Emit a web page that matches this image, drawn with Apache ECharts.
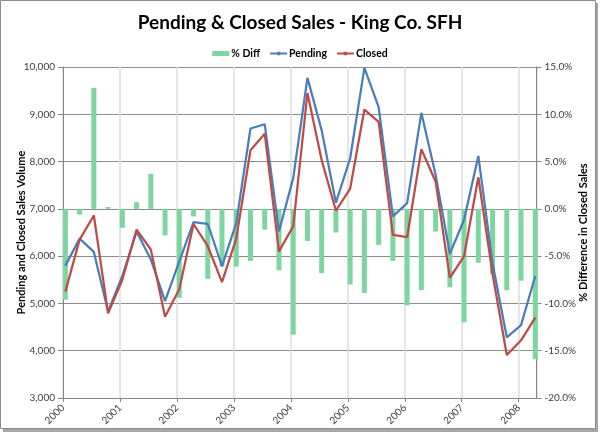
<!DOCTYPE html>
<html>
<head>
<meta charset="utf-8">
<script src="https://cdn.jsdelivr.net/npm/echarts@6/dist/echarts.min.js"></script>
<style>
  html, body { margin: 0; padding: 0; background: #ffffff; }
  #chart { width: 600px; height: 436px; }
</style>
</head>
<body>
<div id="chart"></div>
<script>
// Quarter start months (YYYY-MM)
var quarters = [
  '2000-01','2000-04','2000-07','2000-10',
  '2001-01','2001-04','2001-07','2001-10',
  '2002-01','2002-04','2002-07','2002-10',
  '2003-01','2003-04','2003-07','2003-10',
  '2004-01','2004-04','2004-07','2004-10',
  '2005-01','2005-04','2005-07','2005-10',
  '2006-01','2006-04','2006-07','2006-10',
  '2007-01','2007-04','2007-07','2007-10',
  '2008-01','2008-04'
];
var pendingSales = [
  5800, 6370, 6090, 4830,
  5580, 6520, 5930, 5050,
  5890, 6720, 6680, 5790,
  6700, 8700, 8790, 6520,
  7650, 9770, 8660, 7130,
  8070, 9980, 9150, 6840,
  7120, 9030, 7720, 6050,
  6770, 8120, 5850, 4280,
  4540, 5580
];
var closedSales = [
  5250, 6350, 6860, 4790,
  5500, 6560, 6140, 4720,
  5300, 6680, 6210, 5450,
  6370, 8240, 8590, 6100,
  6630, 9450, 8030, 6960,
  7430, 9100, 8840, 6450,
  6400, 8260, 7580, 5540,
  6000, 7670, 5620, 3910,
  4220, 4700
];
var pctDiff = [
  -9.6, -0.6, 12.8, 0.2,
  -2.0, 0.7, 3.7, -2.8,
  -9.4, -0.8, -7.4, -6.1,
  -6.1, -5.5, -2.2, -6.5,
  -13.3, -3.4, -6.8, -2.5,
  -8.0, -8.9, -3.8, -5.5,
  -10.2, -8.6, -2.4, -8.3,
  -12.0, -5.7, -6.9, -8.6,
  -7.6, -15.9
];
var leftTicks = [3000, 4000, 5000, 6000, 7000, 8000, 9000, 10000];
var rightTicks = [-20, -15, -10, -5, 0, 5, 10, 15];
var yearTicks = [2000, 2001, 2002, 2003, 2004, 2005, 2006, 2007, 2008];

// convert 'YYYY-MM' to a decimal year at the middle of that month
function toYear(s) {
  var p = s.split('-');
  return parseInt(p[0], 10) + (parseInt(p[1], 10) - 0.5) / 12;
}
function pairs(vals) {
  return quarters.map(function (q, i) { return [toYear(q), vals[i]]; });
}

var FONT = 'Lato, "Open Sans", sans-serif';
var chart = echarts.init(document.getElementById('chart'), null, { renderer: 'canvas' });
chart.setOption({
  backgroundColor: '#ffffff',
  animation: false,
  textStyle: { fontFamily: FONT },
  graphic: [
    { type: 'rect', z: -10, silent: true,
      shape: { x: 3, y: 3, width: 595, height: 429 },
      style: { fill: '#a6a6a6' } },
    { type: 'rect', z: -9, silent: true,
      shape: { x: 0.5, y: 0.5, width: 595, height: 428 },
      style: { fill: '#ffffff', stroke: '#8c8c8c', lineWidth: 1 } }
  ],
  title: {
    text: 'Pending & Closed Sales - King Co. SFH',
    left: 'center',
    top: 8,
    textStyle: { fontFamily: FONT, fontWeight: 'bold', fontSize: 19, color: '#000000' }
  },
  legend: {
    top: 43,
    left: 'center',
    itemWidth: 17,
    itemHeight: 5,
    itemGap: 9,
    textStyle: { fontFamily: FONT, fontWeight: 'bold', fontSize: 10.5, color: '#000000', padding: [0, 0, 0, -3] },
    data: [
      { name: '% Diff', icon: 'rect' },
      { name: 'Pending' },
      { name: 'Closed' }
    ]
  },
  grid: { left: 63, right: 63.5, top: 67, bottom: 38, containLabel: false },
  xAxis: {
    type: 'value',
    min: yearTicks[0],
    max: 2008.313,
    interval: 1,
    axisLine: { show: true, onZero: false, lineStyle: { color: '#868686', width: 1 } },
    axisTick: { show: true, length: 4, lineStyle: { color: '#868686' } },
    splitLine: { show: true, lineStyle: { color: '#dcdcdc', width: 1.5 } },
    axisLabel: {
      rotate: 45, margin: 8, fontSize: 10, color: '#404040', fontFamily: FONT,
      showMaxLabel: false,
      formatter: function (v) { return yearTicks.indexOf(Math.round(v)) >= 0 && Math.abs(v - Math.round(v)) < 1e-6 ? String(Math.round(v)) : ''; }
    }
  },
  yAxis: [
    {
      type: 'value',
      min: leftTicks[0],
      max: leftTicks[leftTicks.length - 1],
      interval: 1000,
      name: 'Pending and Closed Sales Volume',
      nameLocation: 'middle',
      nameRotate: 90,
      nameGap: 36,
      nameMoveOverlap: false,
      nameTextStyle: { fontFamily: FONT, fontWeight: 'bold', fontSize: 11, color: '#000000' },
      axisLine: { show: true, lineStyle: { color: '#868686' } },
      axisTick: { show: true, length: 5, lineStyle: { color: '#868686' } },
      splitLine: { show: true, lineStyle: { color: '#8c8c8c', width: 1 } },
      axisLabel: {
        margin: 8, fontSize: 10, color: '#404040', fontFamily: FONT,
        formatter: function (v) { return v.toLocaleString('en-US'); }
      }
    },
    {
      type: 'value',
      min: rightTicks[0],
      max: rightTicks[rightTicks.length - 1],
      interval: 5,
      position: 'right',
      name: '% Difference in Closed Sales',
      nameLocation: 'middle',
      nameRotate: 90,
      nameGap: 41,
      nameMoveOverlap: false,
      nameTextStyle: { fontFamily: FONT, fontWeight: 'bold', fontSize: 11, color: '#000000' },
      axisLine: { show: true, lineStyle: { color: '#868686' } },
      axisTick: { show: true, length: 5, lineStyle: { color: '#868686' } },
      splitLine: { show: false },
      axisLabel: {
        margin: 8, fontSize: 10, color: '#404040', fontFamily: FONT,
        formatter: function (v) { return v.toFixed(1) + '%'; }
      }
    }
  ],
  series: [
    {
      name: '% Diff',
      type: 'bar',
      yAxisIndex: 1,
      barWidth: 5,
      itemStyle: { color: '#7dd6a0' },
      data: pairs(pctDiff),
      z: 2
    },
    {
      name: 'Pending',
      type: 'line',
      yAxisIndex: 0,
      symbol: 'none',
      showSymbol: false,
      lineStyle: { color: '#4a7ebb', width: 2.25 },
      itemStyle: { color: '#4a7ebb' },
      data: pairs(pendingSales),
      z: 3
    },
    {
      name: 'Closed',
      type: 'line',
      yAxisIndex: 0,
      symbol: 'none',
      showSymbol: false,
      lineStyle: { color: '#be4b48', width: 2.25 },
      itemStyle: { color: '#be4b48' },
      data: pairs(closedSales),
      z: 4
    }
  ]
});
</script>
</body>
</html>
